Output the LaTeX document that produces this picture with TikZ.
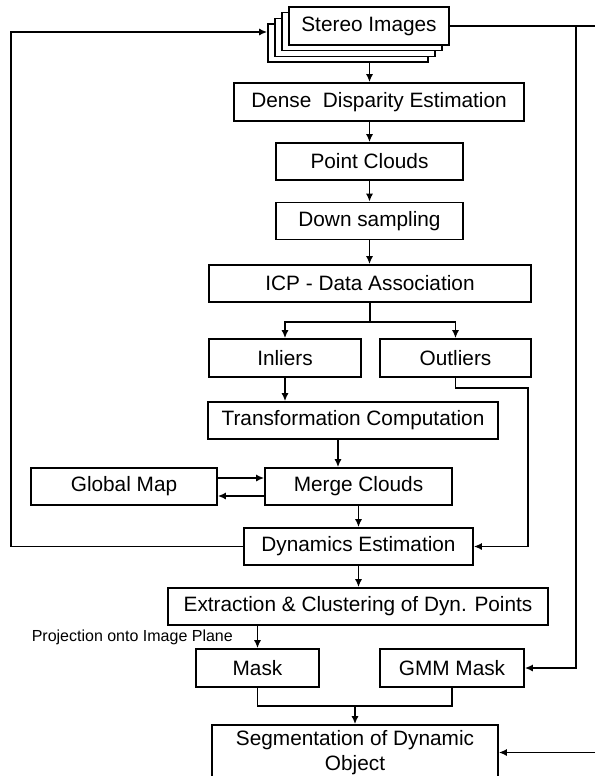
\documentclass[tikz,border=0pt]{standalone}
\usepackage{fontspec}
\setmainfont{Liberation Sans}
\usetikzlibrary{arrows.meta}
\newcommand\blkfont{\fontsize{20.8}{25}\selectfont}
\newcommand\lblfont{\fontsize{16}{19}\selectfont}

\begin{document}
\begin{tikzpicture}[x=1pt,y=-1pt,
  blk/.style={draw,line width=1.6pt,fill=white,inner sep=0pt,minimum height=37pt,font=\blkfont},
  conn/.style={line width=1.6pt},
  arr/.style={conn,-{Latex[length=8pt,width=7pt]}}]
  \useasboundingbox (0,0) rectangle (595,776);
  % Stack of stereo images
  \foreach \k in {3,2,1}
    \node[blk,minimum width=160pt,minimum height=38pt] (stack\k) at (369-7*\k,26+5.7*\k) {};
  \node[blk,minimum width=160pt,minimum height=38pt] (stereo)  at (369,26)      {Stereo Images};
  % Main column
  \node[blk,minimum width=290pt,minimum height=38pt] (dense)   at (379,102)     {Dense\ \ Disparity Estimation};
  \node[blk,minimum width=187pt]                     (pcloud)  at (369.5,161.5) {Point Clouds};
  \node[blk,minimum width=187pt]                     (dsamp)   at (369.5,221)   {Down sampling};
  \node[blk,minimum width=322pt]                     (icp)     at (370,283.5)   {ICP - Data Association};
  \node[blk,minimum width=152pt,minimum height=38pt] (inl)     at (285,358)     {Inliers};
  \node[blk,minimum width=151pt,minimum height=38pt] (outl)    at (455.5,358)   {Outliers};
  \node[blk,minimum width=290pt]                     (trans)   at (353,420.5)   {Transformation Computation};
  \node[blk,minimum width=187pt]                     (merge)   at (358.5,486.5) {Merge Clouds};
  \node[blk,minimum width=186pt]                     (gmap)    at (124,486.5)   {Global Map};
  \node[blk,minimum width=229pt]                     (dyn)     at (358.5,546.5) {Dynamics Estimation};
  \node[blk,minimum width=380pt]                     (extr)    at (358,606.5)   {Extraction \& Clustering of Dyn. Points};
  \node[blk,minimum width=123pt,minimum height=38pt] (mask)    at (257.5,668)   {Mask};
  \node[blk,minimum width=144pt,minimum height=38pt] (gmm)     at (452,668)     {GMM Mask};
  \node[blk,minimum width=286pt,minimum height=55pt,align=center] (seg) at (355,752.5) {Segmentation of Dynamic\\Object};
  \node[anchor=east,font=\lblfont,inner sep=0pt]     (proj)    at (233,637)     {Projection onto Image Plane};
  % Connectors down the column
  \draw[arr] (stack3.south -| pcloud.north) -- (dense.north -| pcloud.north);
  \draw[arr] (dense.south -| pcloud.north) -- (pcloud.north);
  \draw[arr] (pcloud) -- (dsamp);
  \draw[arr] (dsamp.south) -- (dsamp.south |- icp.north);
  \draw[arr] (icp.south) -- ++(0,19) coordinate (fork) -| (inl.north);
  \draw[arr] (fork) -| (outl.north);
  \draw[arr] (inl) -- (inl.south |- trans.north);
  \coordinate (tm) at (338,0);
  \draw[arr] (trans.south -| tm) -- (merge.north -| tm);
  \draw[arr] ([yshift=8.5pt]gmap.east) -- ([yshift=8.5pt]merge.west);
  \draw[arr] ([yshift=-9.5pt]merge.west) -- ([yshift=-9.5pt]gmap.east);
  \draw[arr] (merge.south) -- (merge.south |- dyn.north);
  \draw[arr] (dyn.south) -- (dyn.south |- extr.north);
  \draw[arr] (extr.south -| mask.north) -- (mask.north);
  \draw[conn] (mask.south) -- ++(0,18) coordinate (mjoin) -| (gmm.south);
  \draw[arr] (mjoin -| seg.north) -- (seg.north);
  % Feedback to the stereo images
  \coordinate (loopL) at (11,32);
  \draw[arr] (dyn.west) -| (loopL) -- (loopL -| stack3.west);
  % Outliers to dynamics
  \coordinate (outR) at (528,388);
  \draw[arr] (outl.south) |- (outR) |- (dyn.east);
  % Right-hand rail
  \coordinate (topR) at (595,26);
  \coordinate (rail) at (576,26);
  \coordinate (botR) at (595,752.5);
  \draw[conn] (stereo.east) -- (topR);
  \draw[arr] (rail) |- (gmm.east);
  \draw[arr] (botR) -- (seg.east);
\end{tikzpicture}
\end{document}
